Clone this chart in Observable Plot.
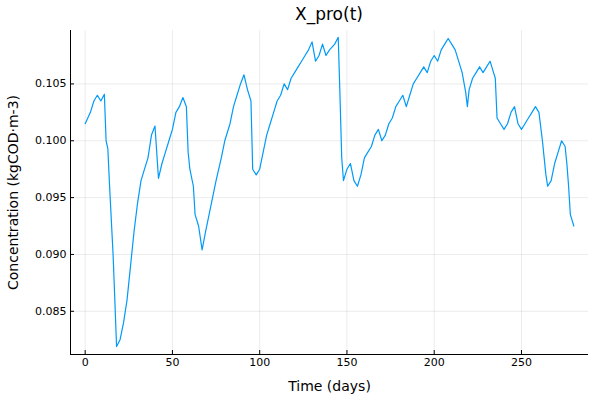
<!DOCTYPE html>
<html><head><meta charset="utf-8">
<script src="https://cdn.jsdelivr.net/npm/d3@7"></script>
<script src="https://cdn.jsdelivr.net/npm/@observablehq/plot@0.6"></script>
<style>body{margin:0;background:#fff;font-family:"DejaVu Sans",sans-serif}
#t{height:28px;line-height:28px;text-align:center;font-size:17px;padding-left:58px;color:#000}</style>
</head><body><div id="t">X_pro(t)</div><div id="c"></div>
<script>
const days = [0,3,5,7,9,11,12,13,14,16,17,18,20,22,24,26,28,30,32,34,36,38,40,42,44,46,48,50,52,54,56,58,59,60,62,63,65,67,69,71,73,75,78,80,83,85,87,89,91,93,95,96,98,100,102,104,106,108,110,112,114,116,118,120,122,124,126,128,130,132,134,136,138,140,143,145,146,147,148,150,152,154,156,158,160,162,164,166,168,170,172,174,176,178,180,182,184,186,188,190,192,194,196,198,200,202,204,206,208,210,212,214,216,218,219,220,222,224,226,228,230,232,234,235,236,238,240,242,244,246,248,250,252,254,256,258,260,262,263,264,265,267,269,271,273,275,276,277,278,280];
const conc = [0.1015,0.1025,0.1035,0.1040,0.1035,0.1041,0.1000,0.0993,0.0960,0.0900,0.0860,0.0819,0.0825,0.0840,0.0860,0.0890,0.0920,0.0945,0.0965,0.0975,0.0985,0.1005,0.1013,0.0967,0.0980,0.0990,0.1000,0.1010,0.1025,0.1030,0.1038,0.1030,0.0990,0.0975,0.0960,0.0935,0.0925,0.0904,0.0920,0.0935,0.0950,0.0965,0.0985,0.1000,0.1015,0.1030,0.1040,0.1050,0.1058,0.1045,0.1035,0.0975,0.0970,0.0975,0.0990,0.1005,0.1015,0.1025,0.1035,0.1040,0.1050,0.1045,0.1055,0.1060,0.1065,0.1070,0.1075,0.1080,0.1087,0.1070,0.1075,0.1085,0.1075,0.1080,0.1085,0.1091,0.1040,0.0985,0.0965,0.0975,0.0980,0.0965,0.0960,0.0970,0.0985,0.0990,0.0995,0.1005,0.1010,0.1000,0.1005,0.1015,0.1020,0.1030,0.1035,0.1040,0.1030,0.1040,0.1050,0.1055,0.1060,0.1065,0.1060,0.1070,0.1075,0.1070,0.1080,0.1085,0.1090,0.1085,0.1080,0.1070,0.1060,0.1043,0.1030,0.1045,0.1055,0.1060,0.1065,0.1060,0.1065,0.1070,0.1060,0.1055,0.1020,0.1015,0.1010,0.1015,0.1025,0.1030,0.1015,0.1010,0.1015,0.1020,0.1025,0.1030,0.1025,0.1000,0.0985,0.0970,0.0960,0.0965,0.0980,0.0990,0.1000,0.0995,0.0980,0.0960,0.0935,0.0925];
const xTicks = [0,50,100,150,200,250];
const yTicks = [0.085,0.090,0.095,0.100,0.105];
const data = days.map((d,i)=>({d, v: conc[i]}));
const chart = Plot.plot({
  width: 600, height: 372,
  marginLeft: 70, marginRight: 12, marginTop: 2, marginBottom: 46,
  style: {fontFamily: "DejaVu Sans, sans-serif", fontSize: "11px", color: "#000"},
  x: {domain: [-8.4, 288.4], ticks: xTicks},
  y: {domain: [0.0812, 0.1097], ticks: yTicks},
  marks: [
    Plot.gridX(xTicks, {stroke: "#000", strokeOpacity: 0.08}),
    Plot.gridY(yTicks, {stroke: "#000", strokeOpacity: 0.08}),
    Plot.axisX({ticks: xTicks, tickSize: -4, tickPadding: 8, fontSize: 11, label: "Time (days)", labelAnchor: "center", labelArrow: "none", labelOffset: 36}),
    Plot.axisY({ticks: yTicks, tickSize: -4, tickPadding: 8, tickFormat: ".3f", fontSize: 11, label: "Concentration (kgCOD·m-3)", labelAnchor: "center", labelArrow: "none", labelOffset: 62}),
    Plot.ruleX([-8.4], {stroke: "#000"}),
    Plot.ruleY([0.0812], {stroke: "#000"}),
    Plot.line(data, {x: "d", y: "v", stroke: "#009af9", strokeWidth: 1.2})
  ]
});
chart.querySelectorAll("[aria-label='x-axis label'] text, [aria-label='y-axis label'] text").forEach(t=>t.style.fontSize="14px");
document.getElementById("c").appendChild(chart);
</script></body></html>
